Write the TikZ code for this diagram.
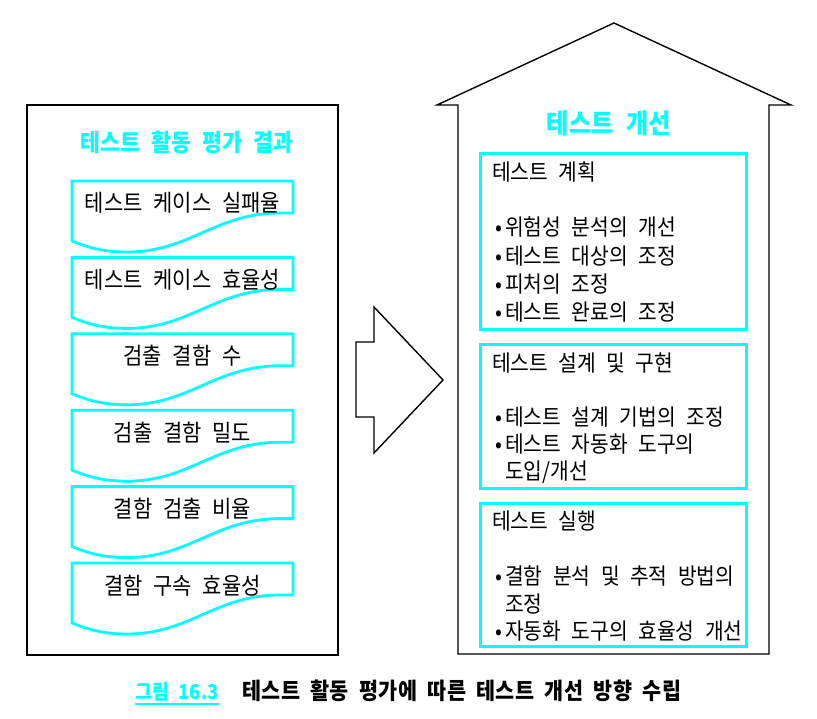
\documentclass[tikz,border=0pt]{standalone}
\usepackage{fontspec}
\setmainfont{Noto Sans CJK KR}[WordSpace=2.3, FakeStretch=0.9]
\usetikzlibrary{calc}
\definecolor{titlecyan}{RGB}{0,255,255}
\newcommand{\bul}{\makebox[12pt][c]{•}}
\tikzset{
  every picture/.style={
    x=1pt, y=-1pt
  },
  outline/.style={
    draw=black, line width=1.4pt
  },
  docline/.style={
    draw=titlecyan, line width=2.8pt
  },
  stagebox/.style={
    draw=titlecyan, line width=2.8pt,
    minimum width=266pt, anchor=north west
  },
  headtext/.style={
    text=titlecyan, inner sep=0pt, text height=18pt, text depth=0pt,
    font=\fontsize{24}{27}\selectfont\bfseries
  },
  doctext/.style={
    inner sep=0pt, text height=18pt, text depth=0pt,
    font=\fontsize{23.3}{26}\selectfont
  },
  itemtext/.style={
    inner sep=0pt, anchor=west, text height=18pt, text depth=0pt,
    font=\fontsize{22.6}{26}\selectfont
  },
  captext/.style={
    inner sep=0pt, text height=18pt, text depth=0pt,
    font=\fontsize{23}{26}\selectfont\bfseries
  }
}
\begin{document}
\begin{tikzpicture}
  \useasboundingbox (0,0) rectangle (817,719);
  % left: evaluation results
  \draw[outline] (27,105) coordinate (L) rectangle (338,655);
  \node[headtext] (evaltitle) at (187,143) {테스트 활동 평가 결과};
  \foreach \lbl [count=\i from 0] in {테스트 케이스 실패율, 테스트 케이스 효율성,
      검출 결함 수, 검출 결함 밀도, 결함 검출 비율, 결함 구속 효율성} {
    \pgfmathsetmacro\dtop{181+76.4*\i}
    \begin{scope}[shift={(72,\dtop)}]
      \draw[docline] (0,0) -- (221,0) -- (221,32) -- (208,32)
        .. controls (143,32) and (118,71) .. (55,71)
        .. controls (30,71) and (15,66) .. (0,60) -- cycle;
      \node[doctext] (doc\i) at (110.5,22) {\lbl};
    \end{scope}
  }
  % arrow
  \draw[outline] (356,342) -- (374,342) -- (374,307) -- (443,380)
    -- (374,453) -- (374,417) -- (356,417) -- cycle;
  % right: house of improvements
  \draw[outline] (437,105) -- (614,23) -- (791,105) -- (769,105)
    -- (769,654) -- (458,654) -- (458,105) -- cycle;
  \node[headtext, font=\fontsize{27}{30}\selectfont\bfseries] (imptitle) at (609,125) {테스트 개선};

  \node[stagebox, minimum height=176pt] (plan) at (479,152) {};
  \node[itemtext] (plan0) at ($(plan.north west)+(13,20)$) {테스트 계획};
  \node[itemtext] (plan1) at ($(plan.north west)+(14,75)$) {\bul 위험성 분석의 개선};
  \node[itemtext] (plan2) at ($(plan.north west)+(14,104)$) {\bul 테스트 대상의 조정};
  \node[itemtext] (plan3) at ($(plan.north west)+(14,132)$) {\bul 피처의 조정};
  \node[itemtext] (plan4) at ($(plan.north west)+(14,160)$) {\bul 테스트 완료의 조정};

  \node[stagebox, minimum height=144pt] (design) at (479,343) {};
  \node[itemtext] (design0) at ($(design.north west)+(13,19)$) {테스트 설계 및 구현};
  \node[itemtext] (design1) at ($(design.north west)+(14,73)$) {\bul 테스트 설계 기법의 조정};
  \node[itemtext] (design2) at ($(design.north west)+(14,100)$) {\bul 테스트 자동화 도구의};
  \node[itemtext] (design3) at ($(design.north west)+(26,127)$) {도입/개선};

  \node[stagebox, minimum height=143pt] (exec) at (479,502) {};
  \node[itemtext] (exec0) at ($(exec.north west)+(13,18)$) {테스트 실행};
  \node[itemtext] (exec1) at ($(exec.north west)+(14,73)$) {\bul 결함 분석 및 추적 방법의};
  \node[itemtext] (exec2) at ($(exec.north west)+(26,101)$) {조정};
  \node[itemtext] (exec3) at ($(exec.north west)+(14,128)$) {\bul 자동화 도구의 효율성 개선};
  % caption
  \node[captext, text=titlecyan, font=\fontsize{20.5}{24}\selectfont\bfseries] (fignum) at (177,690) {그림 16.3};
  \draw[titlecyan, line width=1.5pt] ($(fignum.south west)+(0,5)$) -- ($(fignum.south east)+(0,5)$);
  \node[captext] (figcap) at (462,690) {테스트 활동 평가에 따른 테스트 개선 방향 수립};
\end{tikzpicture}
\end{document}
